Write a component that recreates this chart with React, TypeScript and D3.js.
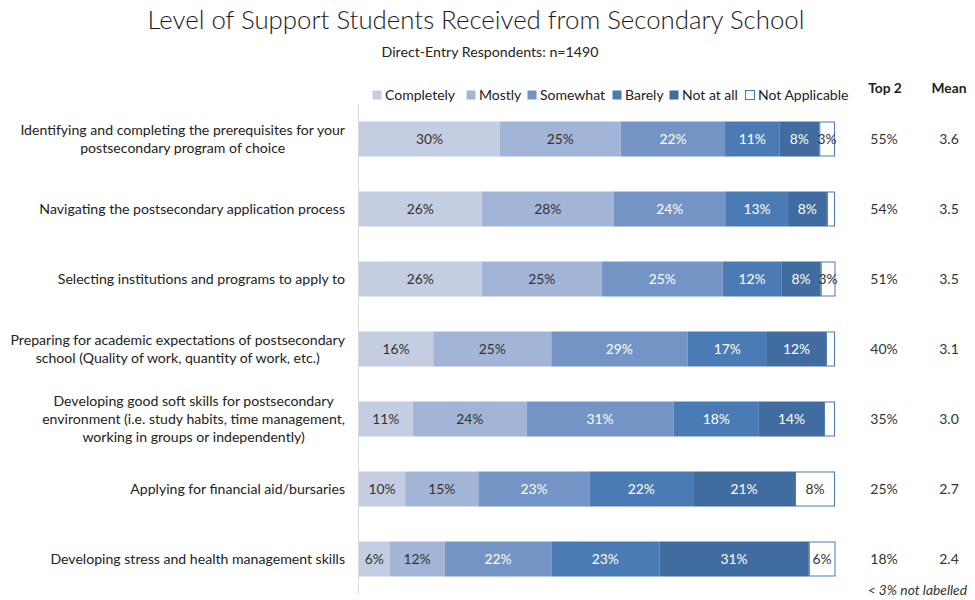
import React, { useEffect, useRef } from "react";
import * as d3 from "d3";

const categories: string[][] = [
  ["Identifying and completing the prerequisites for your", "postsecondary program of choice"],
  ["Navigating the postsecondary application process"],
  ["Selecting institutions and programs to apply to"],
  ["Preparing for academic expectations of postsecondary", "school (Quality of work, quantity of work, etc.)"],
  ["Developing good soft skills for postsecondary", "environment (i.e. study habits, time management,", "working in groups or independently)"],
  ["Applying for financial aid/bursaries"],
  ["Developing stress and health management skills"],
];

const seriesNames = ["Completely", "Mostly", "Somewhat", "Barely", "Not at all", "Not Applicable"];

const completely = [29.6, 25.8, 25.8, 15.6, 11.3, 9.7, 6.4];
const mostly = [25.4, 27.7, 25.2, 24.8, 23.9, 15.4, 11.6];
const somewhat = [21.9, 23.6, 25.4, 28.6, 30.9, 23.3, 22.4];
const barely = [11.4, 13.0, 12.3, 16.7, 17.9, 21.8, 22.7];
const notAtAll = [8.4, 8.2, 8.3, 12.4, 13.7, 21.4, 31.4];
const notApplicable = [3.3, 1.7, 3.1, 1.9, 2.3, 8.4, 5.6];

const top2 = ["55%", "54%", "51%", "40%", "35%", "25%", "18%"];
const means = ["3.6", "3.5", "3.5", "3.1", "3.0", "2.7", "2.4"];

const fills = ["#c4cee3", "#a3b5d6", "#7394c5", "#4a7bb5", "#416c9f", "#ffffff"];
const labelColors = ["#333333", "#333333", "#ffffff", "#ffffff", "#ffffff", "#333333"];

const FONT = "Lato, 'Open Sans', sans-serif";

export default function App() {
  const ref = useRef<SVGSVGElement | null>(null);

  useEffect(() => {
    document.body.style.margin = "0";
    const svg = d3.select(ref.current);
    svg.selectAll("*").remove();

    const series = [completely, mostly, somewhat, barely, notAtAll, notApplicable];
    const idx = d3.range(categories.length);
    const rows = idx.map((i) => {
      const r: any = { i };
      seriesNames.forEach((s, k) => (r[s] = series[k][i]));
      return r;
    });
    const stacked = d3.stack<any>().keys(seriesNames)(rows);

    const x = d3.scaleLinear().domain([0, 100]).range([359, 835]);
    const y = d3
      .scaleBand<number>()
      .domain(idx)
      .range([86.5, 611.5])
      .paddingInner(0.5)
      .paddingOuter(0.5);

    // Title
    svg
      .append("text")
      .attr("x", 476)
      .attr("y", 29)
      .attr("text-anchor", "middle")
      .attr("font-family", FONT)
      .attr("font-weight", 300)
      .attr("font-size", 25.8)
      .attr("fill", "#1a1a1a")
      .text("Level of Support Students Received from Secondary School");
    svg
      .append("text")
      .attr("x", 490)
      .attr("y", 57)
      .attr("text-anchor", "middle")
      .attr("font-family", FONT)
      .attr("font-size", 14.2)
      .attr("fill", "#222")
      .text("Direct-Entry Respondents: n=1490");

    // axis line
    svg
      .append("line")
      .attr("x1", 358.5)
      .attr("x2", 358.5)
      .attr("y1", 104)
      .attr("y2", 594)
      .attr("stroke", "#d9d9d9")
      .attr("stroke-width", 1);

    // bars
    stacked.forEach((layer, k) => {
      const g = svg.append("g");
      layer.forEach((d, i) => {
        const x0 = x(d[0]);
        const x1 = x(d[1]);
        const yy = y(i) as number;
        const bw = y.bandwidth();
        if (k === 5) {
          g.append("rect")
            .attr("x", x0 + 0.5)
            .attr("y", yy + 0.5)
            .attr("width", Math.max(0, x1 - x0 - 1))
            .attr("height", bw - 1)
            .attr("fill", "#ffffff")
            .attr("stroke", "#4a7bb5")
            .attr("stroke-width", 1);
        } else {
          g.append("rect")
            .attr("x", x0)
            .attr("y", yy)
            .attr("width", x1 - x0)
            .attr("height", bw)
            .attr("fill", fills[k]);
        }
        const v = d[1] - d[0];
        if (Math.round(v) >= 3) {
          g.append("text")
            .attr("x", (x0 + x1) / 2)
            .attr("y", yy + bw / 2)
            .attr("dy", "0.35em")
            .attr("text-anchor", "middle")
            .attr("font-family", FONT)
            .attr("font-size", 13.8)
            .attr("fill", labelColors[k])
            .text(Math.round(v) + "%");
        }
      });
    });

    // category labels
    const lineH = 18;
    categories.forEach((lines, i) => {
      const cy = (y(i) as number) + y.bandwidth() / 2;
      const g = svg.append("g");
      const texts = lines.map((ln, j) =>
        g
          .append("text")
          .attr("y", cy + (j - (lines.length - 1) / 2) * lineH)
          .attr("dy", "0.35em")
          .attr("text-anchor", "middle")
          .attr("font-family", FONT)
          .attr("font-size", 14.1)
          .attr("fill", "#222")
          .text(ln)
      );
      const widths = texts.map((t) => (t.node() as SVGTextElement).getComputedTextLength());
      const maxW = d3.max(widths) || 0;
      const cx = 345 - maxW / 2;
      texts.forEach((t) => t.attr("x", cx));
    });

    // legend
    const legendX = [372, 466, 527, 612, 669, 745];
    seriesNames.forEach((s, k) => {
      const g = svg.append("g");
      g.append("rect")
        .attr("x", legendX[k] + 0.5)
        .attr("y", 90.5)
        .attr("width", 9)
        .attr("height", 9)
        .attr("fill", fills[k])
        .attr("stroke", k === 5 ? "#4a7bb5" : "none");
      g.append("text")
        .attr("x", legendX[k] + 13)
        .attr("y", 95)
        .attr("dy", "0.35em")
        .attr("font-family", FONT)
        .attr("font-size", 14)
        .attr("fill", "#222")
        .text(s);
    });

    // right columns
    ["Top 2", "Mean"].forEach((h, j) => {
      svg
        .append("text")
        .attr("x", j === 0 ? 885 : 949)
        .attr("y", 88)
        .attr("dy", "0.35em")
        .attr("text-anchor", "middle")
        .attr("font-family", FONT)
        .attr("font-weight", 700)
        .attr("font-size", 13.8)
        .attr("fill", "#222")
        .text(h);
    });
    idx.forEach((i) => {
      const cy = (y(i) as number) + y.bandwidth() / 2;
      svg
        .append("text")
        .attr("x", 884)
        .attr("y", cy)
        .attr("dy", "0.35em")
        .attr("text-anchor", "middle")
        .attr("font-family", FONT)
        .attr("font-size", 14)
        .attr("fill", "#333")
        .text(top2[i]);
      svg
        .append("text")
        .attr("x", 949)
        .attr("y", cy)
        .attr("dy", "0.35em")
        .attr("text-anchor", "middle")
        .attr("font-family", FONT)
        .attr("font-size", 14)
        .attr("fill", "#333")
        .text(means[i]);
    });
    svg
      .append("text")
      .attr("x", 967)
      .attr("y", 590)
      .attr("dy", "0.35em")
      .attr("text-anchor", "end")
      .attr("font-family", FONT)
      .attr("font-style", "italic")
      .attr("font-size", 13.8)
      .attr("fill", "#333")
      .text("< 3% not labelled");
  }, []);

  return <svg ref={ref} width={975} height={600} style={{ display: "block", background: "#fff" }} />;
}
